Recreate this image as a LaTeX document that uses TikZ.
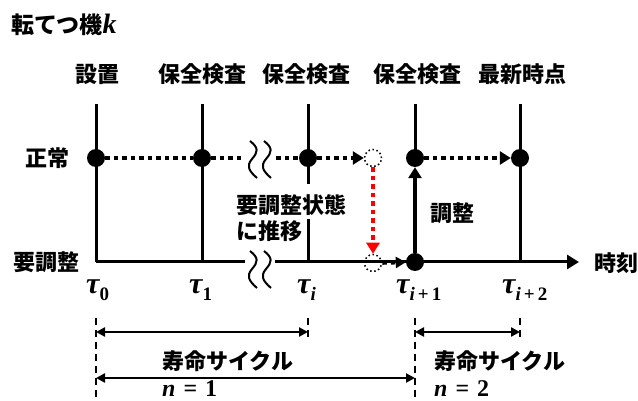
\documentclass[tikz,border=0pt]{standalone}
\usepackage{fontspec}
\newfontfamily\jp{Noto Sans CJK JP}
\newfontfamily\ser{Liberation Serif}
\usetikzlibrary{arrows.meta}
\newcommand{\tsub}[1]{\raisebox{-7pt}{\fontsize{19}{22}\selectfont #1}}
\newcommand{\tauv}{{\itshape τ}}
\tikzset{
  lbl/.style={font=\jp\bfseries\fontsize{22}{26}\selectfont, inner sep=0pt},
  mth/.style={font=\ser\bfseries\fontsize{30}{34}\selectfont, inner sep=0pt},
  nlbl/.style={font=\ser\bfseries\fontsize{24}{26}\selectfont, inner sep=0pt, text depth=0pt},
  vline/.style={line width=3pt},
  dot/.style={circle, fill=black, minimum size=18pt, inner sep=0pt},
  ghost/.style={circle, draw=black, line width=1.5pt, dash pattern=on 1.5pt off 2.6pt, minimum size=17pt, inner sep=0pt},
  dotline/.style={line width=4pt, dash pattern=on 4.5pt off 4pt},
  bighead/.style={-{Triangle[length=11pt,width=13pt]}},
  squig/.style={line width=2pt},
  dimline/.style={line width=2.5pt, {Triangle[length=9pt,width=9pt]}-{Triangle[length=9pt,width=9pt]}},
  dashv/.style={line width=2.5pt, dash pattern=on 7pt off 5pt},
}
\begin{document}
\begin{tikzpicture}[x=1pt,y=-1pt]
\useasboundingbox (0,0) rectangle (638,401);
% title
\node[font=\jp\bfseries\fontsize{23}{27}\selectfont, inner sep=0pt, anchor=west] (title) at (11,25) {転てつ機{\ser\bfseries\itshape\fontsize{28}{30}\selectfont k}};
% column labels
\node[lbl] (c0) at (97,74) {設置};
\node[lbl] (c1) at (202,74) {保全検査};
\node[lbl] (c2) at (306,74) {保全検査};
\node[lbl] (c3) at (417,74) {保全検査};
\node[lbl] (c4) at (522,74) {最新時点};
% row labels
\node[lbl] (r0) at (47,158) {正常};
\node[lbl] (r1) at (46,262) {要調整};
\node[lbl] (tm) at (616,263) {時刻};
% top ends of verticals
\coordinate (t0) at (96,104);
\coordinate (t1) at (202,104);
\coordinate (t2) at (308,104);
\coordinate (t3) at (415,104);
\coordinate (t4) at (520,104);
% axis points
\coordinate (b0) at (96,262);
\coordinate (b1) at (202,262);
\coordinate (b2) at (308,262);
\coordinate (b4) at (520,262);
\coordinate (bgapL) at (245,262);
\coordinate (bgapR) at (275,262);
\coordinate (bend) at (579,262);
\coordinate (m2a) at (308,184);
\coordinate (m2b) at (308,219);
% verticals
\draw[vline] (t0) -- (b0);
\draw[vline] (t1) -- (b1);
\draw[vline] (t2) -- (m2a);
\draw[vline] (m2b) -- (b2);
\draw[vline] (t3) -- (415,158);
\draw[vline] (t4) -- (b4);
% axis
\draw[vline] (b0) -- (bgapL);
\draw[vline, -{Triangle[length=12pt,width=14pt]}] (bgapR) -- (bend);
% squiggles
\foreach \dx in {0,14} {
  \draw[squig] (250+\dx,141) .. controls (259+\dx,148) and (258+\dx,152) .. (252+\dx,159)
     .. controls (246+\dx,166) and (249+\dx,171) .. (257+\dx,178);
  \draw[squig] (250+\dx,251) .. controls (259+\dx,258) and (258+\dx,262) .. (252+\dx,269)
     .. controls (246+\dx,276) and (249+\dx,281) .. (257+\dx,288);
}
% dots
\node[dot] (n0) at (96,158) {};
\node[dot] (n1) at (202,158) {};
\node[dot] (n2) at (308,158) {};
\node[dot] (n3) at (415,158) {};
\node[dot] (n4) at (520,158) {};
\node[dot] (a3) at (415,262) {};
\node[ghost] (g1) at (373,158) {};
\node[ghost] (g2) at (373,263) {};
\coordinate (sqL) at (244,158);
\coordinate (sqR) at (276,158);
% dotted transitions
\draw[dotline] (n0) -- (n1);
\draw[dotline] (n1) -- (sqL);
\draw[dotline] (sqR) -- (n2);
\draw[dotline, bighead] (n2) -- (g1);
\draw[dotline, red, bighead] (g1) -- (g2);
\draw[dotline, -{Triangle[length=10pt,width=11pt]}] (g2) -- (a3);
\draw[line width=4pt, bighead] (a3) -- (n3);
\draw[dotline, bighead] (n3) -- (n4);
% texts
\node[lbl] (adj) at (452,213) {調整};
\node[lbl, anchor=west] (tr1) at (236,205) {要調整状態};
\node[lbl, anchor=west] (tr2) at (236,231) {に推移};
% tau labels
\node[mth, anchor=base west] (tau0) at (86,293) {\tauv\tsub{0}};
\node[mth, anchor=base west] (tau1) at (189,293) {\tauv\tsub{1}};
\node[mth, anchor=base west] (taui) at (297,293) {\tauv\tsub{\itshape i}};
\node[mth, anchor=base west] (tauj) at (396,293) {\tauv\tsub{{\itshape i}\,+\,1}};
\node[mth, anchor=base west] (tauk) at (502,293) {\tauv\tsub{{\itshape i}\,+\,2}};
% dashed verticals
\coordinate (d0a) at (96,318);  \coordinate (d0b) at (96,401);
\coordinate (d2a) at (308,318); \coordinate (d2b) at (308,340);
\coordinate (d3a) at (415,318); \coordinate (d3b) at (415,401);
\coordinate (d4a) at (520,318); \coordinate (d4b) at (520,340);
\draw[dashv] (d0a) -- (d0b);
\draw[dashv] (d2a) -- (d2b);
\draw[dashv] (d3a) -- (d3b);
\draw[dashv] (d4a) -- (d4b);
% dimension arrows
\draw[dimline] (96,332) -- (308,332);
\draw[dimline] (415,332) -- (520,332);
\draw[dimline] (96,378) -- (415,378);
% cycle labels
\node[lbl, anchor=west] (cy1) at (162,361) {寿命サイクル};
\node[nlbl, anchor=base west] (nn1) at (162,396) {{\itshape n}\hspace{8pt}=\hspace{8pt}1};
\node[lbl, anchor=west] (cy2) at (434,361) {寿命サイクル};
\node[nlbl, anchor=base west] (nn2) at (434,396) {{\itshape n}\hspace{8pt}=\hspace{8pt}2};
\end{tikzpicture}
\end{document}
